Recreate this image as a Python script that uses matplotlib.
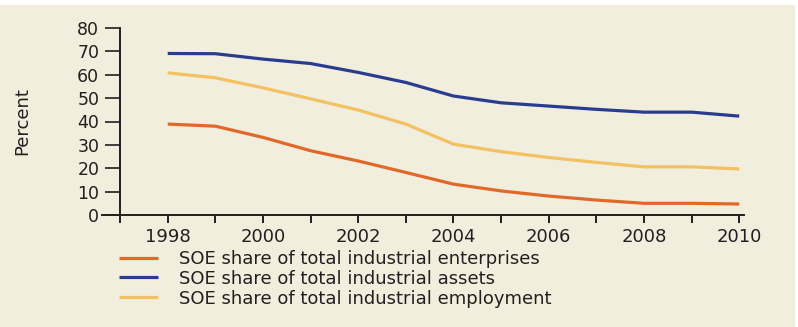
import matplotlib
matplotlib.use('Agg')
import matplotlib.pyplot as plt
from matplotlib.patches import Rectangle

years = list(range(1998, 2011))
enterprises = [38.9, 38.0, 33.2, 27.5, 23.1, 18.2, 13.2, 10.3, 8.1, 6.4, 5.0, 5.0, 4.7]
assets = [69.1, 69.0, 66.7, 64.8, 61.0, 56.7, 50.9, 48.0, 46.6, 45.2, 44.0, 44.0, 42.3]
employment = [60.8, 58.7, 54.4, 49.7, 44.9, 38.9, 30.3, 27.1, 24.6, 22.5, 20.6, 20.6, 19.7]

labels = [
    'SOE share of total industrial enterprises',
    'SOE share of total industrial assets',
    'SOE share of total industrial employment',
]
colors = ['#e0692a', '#2a3c8e', '#f3c062']

BG = '#f2eedd'
INK = '#231f20'

fig = plt.figure(figsize=(7.98, 3.27), dpi=100, facecolor='white')
# cream panel, thin white strip on top
fig.patches.append(Rectangle((0, 0), 0.996, 1 - 5 / 327, transform=fig.transFigure,
                             facecolor=BG, edgecolor='none', zorder=-1))

ax = fig.add_axes([102 / 798, (327 - 215) / 327, 642 / 798, 187 / 327])
ax.set_facecolor('none')

for vals, lab, col in zip([enterprises, assets, employment], labels, colors):
    ax.plot(years, vals, color=col, lw=2.3, label=lab, solid_capstyle='butt')

ax.set_xlim(1996.62, 2010.1)
ax.set_ylim(0, 80)

for s in ['top', 'right']:
    ax.spines[s].set_visible(False)
ax.spines['left'].set_position(('data', 1997))
ax.spines['left'].set_color(INK)
ax.spines['left'].set_linewidth(1.4)
ax.spines['bottom'].set_color(INK)
ax.spines['bottom'].set_linewidth(1.4)

ax.set_yticks(range(0, 81, 10))
ax.tick_params(axis='y', length=11, width=1.2, color=INK, pad=4, labelsize=12.5, labelcolor=INK)

ax.set_xticks(range(1997, 2011))
ax.set_xticklabels([str(y) if y % 2 == 0 else '' for y in range(1997, 2011)])
ax.tick_params(axis='x', length=6, width=1.4, color=INK, pad=3, labelsize=13, labelcolor=INK)

fig.text(22 / 798, 1 - 121 / 327, 'Percent', rotation=90, ha='center', va='center',
         fontsize=13, color=INK)

fig.legend(loc='upper left', bbox_to_anchor=(119 / 798, 1 - 250 / 327), frameon=False,
           fontsize=13, handlelength=2.15, handletextpad=1.15, labelspacing=0.1,
           borderaxespad=0, borderpad=0, labelcolor=INK)

fig.savefig('out.png', dpi=100, facecolor=fig.get_facecolor())
